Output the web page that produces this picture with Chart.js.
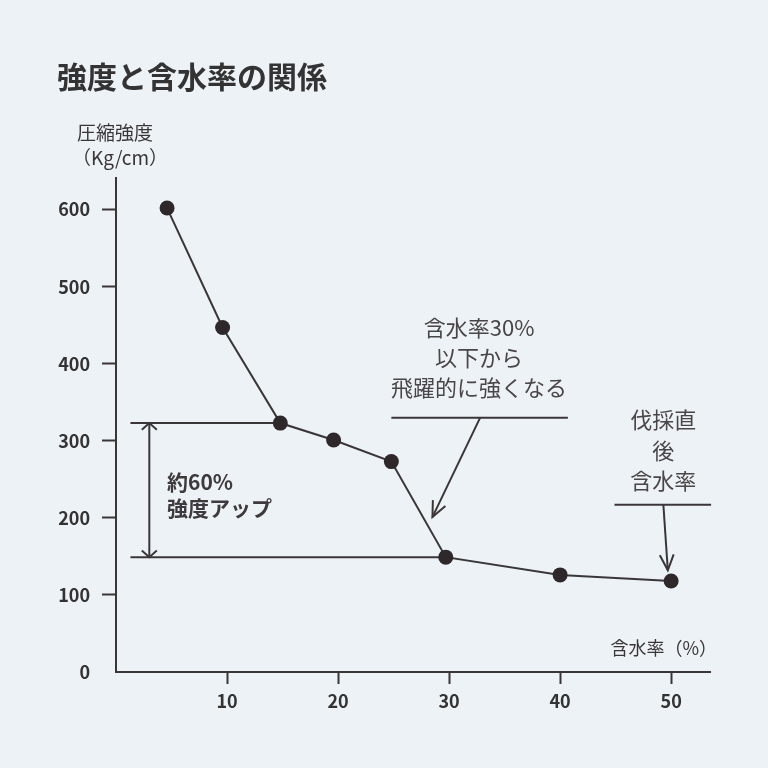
<!DOCTYPE html>
<html lang="ja">
<head>
<meta charset="utf-8">
<script src="https://cdn.jsdelivr.net/npm/chart.js@4.4.0/dist/chart.umd.min.js"></script>
<style>
  html, body { margin: 0; padding: 0; background: #edf2f6; }
  #wrap { width: 768px; height: 768px; }
</style>
</head>
<body>
<div id="wrap"><canvas id="chart" width="768" height="768"></canvas></div>
<script>
// values
const moisture = [4.6, 9.6, 14.8, 19.6, 24.8, 29.7, 40, 50];
const strength = [602, 447, 323, 301, 273, 149, 126, 118];
const yTickValues = [0, 100, 200, 300, 400, 500, 600];
const xTickValues = [10, 20, 30, 40, 50];

const titleText = '強度と含水率の関係';
const yTitleLines = ['圧縮強度', '（Kg/cm）'];
const xTitleText = '含水率（%）';
const gainLines = ['約60%', '強度アップ'];
const note30Lines = ['含水率30%', '以下から', '飛躍的に強くなる'];
const noteFellLines = ['伐採直', '後', '含水率'];

const FONT = '"Noto Sans CJK JP", "Noto Sans", sans-serif';
const INK = '#3a3638';
const BG = '#edf2f6';

function arrowHead(ctx, x1, y1, x2, y2, len, ang) {
	const a = Math.atan2(y2 - y1, x2 - x1);
	ctx.beginPath();
	ctx.moveTo(x2 - len * Math.cos(a - ang), y2 - len * Math.sin(a - ang));
	ctx.lineTo(x2, y2);
	ctx.lineTo(x2 - len * Math.cos(a + ang), y2 - len * Math.sin(a + ang));
	ctx.stroke();
}

function line(ctx, x1, y1, x2, y2) {
	ctx.beginPath();
	ctx.moveTo(x1, y1);
	ctx.lineTo(x2, y2);
	ctx.stroke();
}

const decor = {
	id: 'decor',
	beforeDraw(chart) {
		const ctx = chart.ctx;
		ctx.save();
		ctx.fillStyle = BG;
		ctx.fillRect(0, 0, chart.width, chart.height);
		ctx.restore();
	},
	beforeDatasetsDraw(chart) {
		const ctx = chart.ctx;
		const x = chart.scales.x, y = chart.scales.y;
		const top = strength[2], low = strength[5];
		ctx.save();
		ctx.strokeStyle = INK;
		ctx.lineWidth = 2;
		// guide lines from the 15% and 30% points back to the axis
		line(ctx, x.getPixelForValue(1.3), y.getPixelForValue(top), x.getPixelForValue(moisture[2]), y.getPixelForValue(top));
		line(ctx, x.getPixelForValue(1.3), y.getPixelForValue(low), x.getPixelForValue(moisture[5]), y.getPixelForValue(low));
		// double arrow
		const ax = x.getPixelForValue(3.0);
		const ay1 = y.getPixelForValue(top), ay2 = y.getPixelForValue(low);
		line(ctx, ax, ay1, ax, ay2);
		arrowHead(ctx, ax, ay2, ax, ay1, 10, 0.85);
		arrowHead(ctx, ax, ay1, ax, ay2, 10, 0.85);

		// note 1 : 30%
		line(ctx, x.getPixelForValue(24.8), y.getPixelForValue(330), x.getPixelForValue(40.7), y.getPixelForValue(330));
		const n1x1 = x.getPixelForValue(32.8), n1y1 = y.getPixelForValue(330);
		const n1x2 = x.getPixelForValue(28.5), n1y2 = y.getPixelForValue(201);
		line(ctx, n1x1, n1y1, n1x2, n1y2);
		arrowHead(ctx, n1x1, n1y1, n1x2, n1y2, 17, 0.42);

		// note 2 : fresh felled
		line(ctx, x.getPixelForValue(44.9), y.getPixelForValue(217), x.getPixelForValue(53.6), y.getPixelForValue(217));
		const n2x1 = x.getPixelForValue(49.3), n2y1 = y.getPixelForValue(217);
		const n2x2 = x.getPixelForValue(49.7), n2y2 = y.getPixelForValue(132);
		line(ctx, n2x1, n2y1, n2x2, n2y2);
		arrowHead(ctx, n2x1, n2y1, n2x2, n2y2, 17, 0.42);
		ctx.restore();
	},
	afterDraw(chart) {
		const ctx = chart.ctx;
		const x = chart.scales.x, y = chart.scales.y;
		ctx.save();
		ctx.textBaseline = 'middle';

		ctx.fillStyle = '#333';
		ctx.font = 'bold 30px ' + FONT;
		ctx.textAlign = 'left';
		ctx.fillText(titleText, 57, 77);

		ctx.fillStyle = INK;
		ctx.font = '19px ' + FONT;
		ctx.textAlign = 'left';
		ctx.fillText(yTitleLines[0], 77, 133);
		ctx.fillText(yTitleLines[1], 72, 158);

		ctx.font = '18px ' + FONT;
		ctx.textAlign = 'right';
		ctx.fillText(xTitleText, 717, 648);

		ctx.font = 'bold 21px ' + FONT;
		ctx.textAlign = 'left';
		ctx.fillStyle = '#3e3a3c';
		gainLines.forEach((t, i) => ctx.fillText(t, 167, 482 + i * 26));

		ctx.font = '22px ' + FONT;
		ctx.textAlign = 'center';
		ctx.fillStyle = '#4a4648';
		const c1 = x.getPixelForValue(32.7);
		note30Lines.forEach((t, i) => ctx.fillText(t, c1, y.getPixelForValue(447) + i * 30));
		const c2 = x.getPixelForValue(49.3);
		noteFellLines.forEach((t, i) => ctx.fillText(t, c2, y.getPixelForValue(327) + i * 30.5));
		ctx.restore();
	}
};

const tickFont = { family: FONT, size: 18, weight: 'bold' };

new Chart(document.getElementById('chart'), {
	type: 'scatter',
	data: {
		datasets: [{
			data: moisture.map((m, i) => ({ x: m, y: strength[i] })),
			showLine: true,
			borderColor: INK,
			borderWidth: 2,
			pointRadius: 7.5,
			pointBackgroundColor: '#2e282a',
			pointBorderColor: '#2e282a',
			pointBorderWidth: 0,
			clip: false
		}]
	},
	options: {
		responsive: false,
		animation: false,
		devicePixelRatio: 1,
		layout: { padding: { top: 178, right: 58, left: 0, bottom: 0 } },
		plugins: { legend: { display: false }, tooltip: { enabled: false } },
		scales: {
			x: {
				type: 'linear',
				min: 0,
				max: 53.5,
				afterBuildTicks: s => { s.ticks = xTickValues.map(v => ({ value: v })); },
				afterFit: s => { s.height = 96; },
				border: { color: INK, width: 2 },
				grid: { drawOnChartArea: false, tickLength: 12, tickColor: INK, tickWidth: 2 },
				ticks: { font: tickFont, color: '#333', padding: 6, maxRotation: 0 }
			},
			y: {
				type: 'linear',
				min: 0,
				max: 641,
				afterBuildTicks: s => { s.ticks = yTickValues.map(v => ({ value: v })); },
				afterFit: s => { s.width = 116; },
				border: { color: INK, width: 2 },
				grid: {
					drawOnChartArea: false,
					tickLength: 14,
					tickWidth: 2,
					tickColor: c => (c.tick && c.tick.value === 0) ? 'rgba(0,0,0,0)' : INK
				},
				ticks: { font: tickFont, color: '#333', padding: 12 }
			}
		}
	},
	plugins: [decor]
});
</script>
</body>
</html>
